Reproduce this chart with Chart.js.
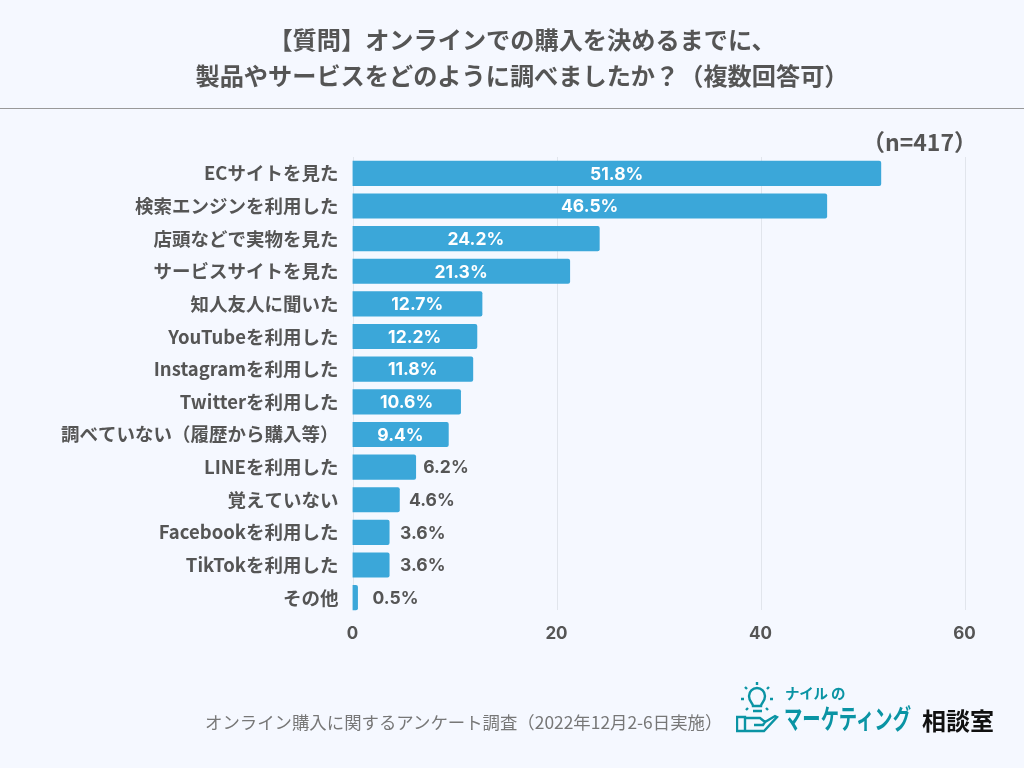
<!DOCTYPE html>
<html lang="ja">
<head>
<meta charset="utf-8">
<title>オンライン購入に関するアンケート調査</title>
<script src="https://cdn.jsdelivr.net/npm/chart.js@4"></script>
<style>
    html, body { margin: 0; padding: 0; background: #f5f8ff; }
    body { width: 1024px; height: 768px; position: relative; overflow: hidden; font-family: "Noto Sans CJK JP", "Noto Sans", sans-serif; color: #555; }
    canvas { position: absolute; left: 0; top: 0; }
    .title { position: absolute; left: 10px; top: 21px; width: 1024px; text-align: center; font-size: 24.2px; font-weight: 700; line-height: 36px; }
    .rule { position: absolute; left: 0; top: 108px; width: 1024px; height: 1px; background: #999; }
    .count { position: absolute; right: 47px; top: 125px; font-size: 23px; font-weight: 700; line-height: 32px; }
    .source { position: absolute; left: 205px; top: 710px; font-size: 17.4px; line-height: 24px; color: #777; white-space: nowrap; }
    .logo { position: absolute; left: 736px; top: 680px; width: 270px; height: 60px; }
    .logo span { position: absolute; white-space: nowrap; font-weight: 700; }
    .brand-top { left: 49px; top: 3px; font-size: 14.5px; line-height: 20px; color: #0a94a4; letter-spacing: -0.2px; }
    .brand-main { left: 48px; top: 20px; font-size: 27px; line-height: 36px; color: #0a94a4; transform: scaleX(0.68); transform-origin: left center; }
    .brand-room { left: 186px; top: 22px; font-size: 24px; line-height: 36px; color: #111; }
</style>
</head>
<body>
<canvas id="chart" width="1024" height="768"></canvas>
<div class="title">【質問】オンラインでの購入を決めるまでに、<br>製品やサービスをどのように調べましたか？（複数回答可）</div>
<div class="rule"></div>
<div class="count">（n=417）</div>
<div class="source">オンライン購入に関するアンケート調査（2022年12月2-6日実施）</div>
<div class="logo">
    <svg width="44" height="56" viewBox="0 0 44 56" style="position:absolute;left:0;top:0" fill="none" stroke="#0a94a4" stroke-width="2.4">
        <path d="M17 26c0-3-4-4-4-10a8 8 0 0 1 16 0c0 6-4 7-4 10z"/>
        <path d="M17 31h9M21 2v3M9 7l2 2M33 7l-2 2M5 19h3M34 19h3M10 30l2-2M32 30l-2-2"/>
        <path d="M1 37h8v14H1zM9 38H24l5 4 10-6 2 1L28 51H9M29 42l-2 3H18"/>
    </svg>
    <span class="brand-top">ナイル の</span>
    <span class="brand-main">マーケティング</span>
    <span class="brand-room">相談室</span>
</div>
<script>
const categories = [
    'ECサイトを見た', '検索エンジンを利用した', '店頭などで実物を見た', 'サービスサイトを見た',
    '知人友人に聞いた', 'YouTubeを利用した', 'Instagramを利用した', 'Twitterを利用した',
    '調べていない（履歴から購入等）', 'LINEを利用した', '覚えていない', 'Facebookを利用した',
    'TikTokを利用した', 'その他'
];
const percentValues = [51.8, 46.5, 24.2, 21.3, 12.7, 12.2, 11.8, 10.6, 9.4, 6.2, 4.6, 3.6, 3.6, 0.5];
const xTicks = [0, 20, 40, 60];

const textColor = '#555555';
const fontFamily = '"Noto Sans CJK JP", "Noto Sans", sans-serif';

// grid lines stop a little above the bottom of the last category
const gridPlugin = {
    id: 'shortGrid',
    beforeDatasetsDraw(chart) {
        const { ctx, scales } = chart;
        ctx.save();
        ctx.strokeStyle = '#e1e5ec';
        ctx.lineWidth = 1;
        xTicks.forEach((tick) => {
            const x = Math.round(scales.x.getPixelForValue(tick)) + 0.5;
            ctx.beginPath();
            ctx.moveTo(x, chart.chartArea.top);
            ctx.lineTo(x, chart.chartArea.bottom - 4);
            ctx.stroke();
        });
        ctx.restore();
    }
};

const valueLabelPlugin = {
    id: 'valueLabels',
    afterDatasetsDraw(chart) {
        const { ctx } = chart;
        const bars = chart.getDatasetMeta(0).data;
        ctx.save();
        ctx.textBaseline = 'middle';
        bars.forEach((bar, i) => {
            const value = percentValues[i];
            const text = value.toFixed(1) + '%';
            ctx.font = '700 17.5px Inter, ' + fontFamily;
            if (value > 9) {
                ctx.fillStyle = '#ffffff';
                ctx.textAlign = 'center';
                ctx.fillText(text, (bar.base + bar.x) / 2, bar.y + 1);
            } else {
                ctx.fillStyle = textColor;
                ctx.textAlign = 'left';
                ctx.fillText(text, bar.x + 15.5 - value * 1.3, bar.y + 1);
            }
        });
        ctx.restore();
    }
};

new Chart(document.getElementById('chart').getContext('2d'), {
    type: 'bar',
    data: {
        labels: categories,
        datasets: [{
            data: percentValues,
            backgroundColor: '#3ba7d9',
            borderRadius: 2,
            borderSkipped: 'left',
            barThickness: 24.5
        }]
    },
    options: {
        indexAxis: 'y',
        responsive: false,
        animation: false,
        layout: { padding: { top: 157, right: 59.5, bottom: 124, left: 0 } },
        plugins: { legend: { display: false }, tooltip: { enabled: false } },
        scales: {
            x: {
                min: 0,
                max: 60,
                afterFit(scale) { scale.height = 30; },
                afterBuildTicks(scale) { scale.ticks = xTicks.map((value) => ({ value })); },
                grid: { display: false },
                border: { display: false },
                ticks: {
                    color: textColor,
                    font: { family: 'Inter, ' + fontFamily, size: 17, weight: '700' },
                    padding: 2,
                    maxRotation: 0
                }
            },
            y: {
                afterFit(scale) { scale.width = 352.5; },
                grid: { display: false },
                border: { display: false },
                ticks: {
                    color: textColor,
                    font: { family: fontFamily, size: 18.5, weight: '700' },
                    padding: 6,
                    autoSkip: false
                }
            }
        }
    },
    plugins: [gridPlugin, valueLabelPlugin]
});
</script>
</body>
</html>
